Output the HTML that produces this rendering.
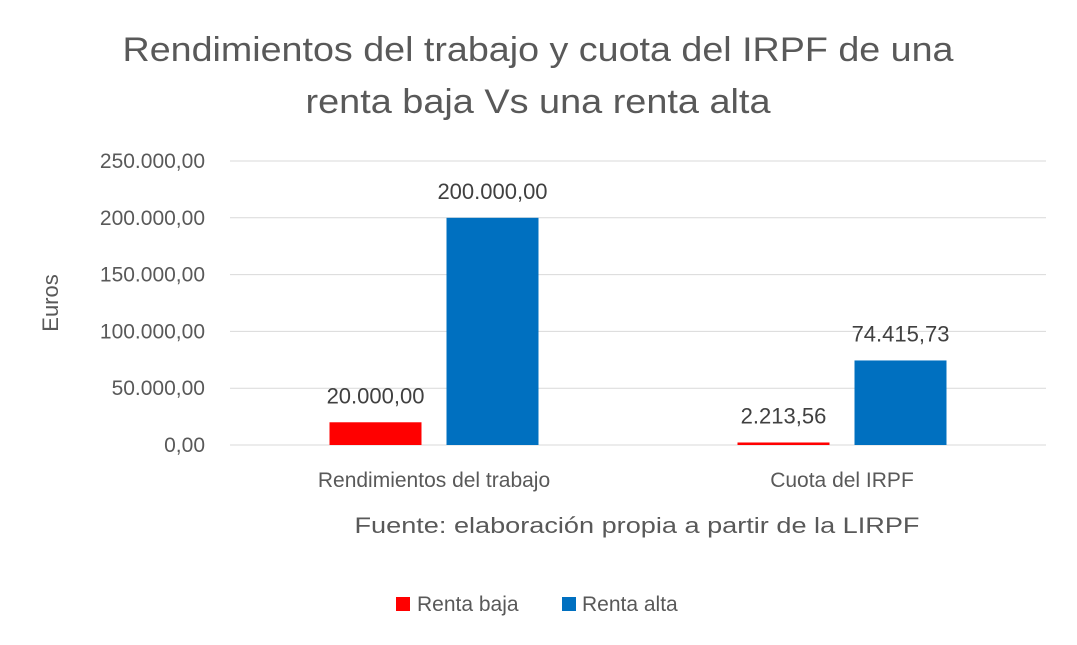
<!DOCTYPE html>
<html><head><meta charset="utf-8"><style>
body{margin:0;background:#fff}
svg{display:block;font-family:"Liberation Sans",sans-serif}
</style></head><body>
<svg width="1077" height="645" viewBox="0 0 1077 645">
<rect width="1077" height="645" fill="#fff"/>
<g fill="#595959" font-size="34" text-anchor="middle">
<text x="538" y="61" textLength="831" lengthAdjust="spacingAndGlyphs">Rendimientos del trabajo y cuota del IRPF de una</text>
<text x="538" y="113" textLength="465" lengthAdjust="spacingAndGlyphs">renta baja Vs una renta alta</text>
</g>
<g id="grid"></g><g id="yt"></g><g id="bars"></g><g id="labels"></g><g id="cats"></g>
<text x="0" y="0" transform="translate(58,303) rotate(-90)" text-anchor="middle" font-size="22" fill="#595959">Euros</text>
<text x="637" y="533" text-anchor="middle" font-size="22" fill="#595959" textLength="565" lengthAdjust="spacingAndGlyphs">Fuente: elaboración propia a partir de la LIRPF</text>
<g>
<rect x="396" y="597" width="14" height="14" fill="#ff0000"/>
<text x="417" y="611" font-size="21" fill="#595959">Renta baja</text>
<rect x="562" y="597" width="14" height="14" fill="#0070c0"/>
<text x="582" y="611" font-size="21" fill="#595959">Renta alta</text>
</g>
</svg>
<script>
const categories=["Rendimientos del trabajo","Cuota del IRPF"];
const rentaBaja=[20000,2213.56];
const rentaAlta=[200000,74415.73];
const baja_labels=["20.000,00","2.213,56"];
const alta_labels=["200.000,00","74.415,73"];
const yTicks=[0,50000,100000,150000,200000,250000];
const yTickLabels=["0,00","50.000,00","100.000,00","150.000,00","200.000,00","250.000,00"];
const NS="http://www.w3.org/2000/svg";
const x0=230,x1=1046,yBase=445,yTop=161,yMax=250000;
const y=v=>yBase-(v/yMax)*(yBase-yTop);
const gw=(x1-x0)/categories.length;
function mk(tag,attrs,parent){const e=document.createElementNS(NS,tag);for(const k in attrs)e.setAttribute(k,attrs[k]);document.getElementById(parent).appendChild(e);return e;}
yTicks.forEach((t,i)=>{
const l=mk("line",{x1:x0,x2:x1,y1:y(t),y2:y(t),stroke:"#d9d9d9","stroke-width":1},"grid");


const tx=mk("text",{x:205,y:y(t)+7,"text-anchor":"end","font-size":21,fill:"#595959"},"yt");
tx.textContent=yTickLabels[i];


});
const bw=92,gap=25;
categories.forEach((c,i)=>{
const cx=x0+gw*(i+0.5);
const series=[[rentaBaja[i],"#ff0000",baja_labels[i],cx-gap/2-bw],[rentaAlta[i],"#0070c0",alta_labels[i],cx+gap/2]];
series.forEach((s,j)=>{
const b=mk("rect",{x:s[3],y:y(s[0]),width:bw,height:yBase-y(s[0]),fill:s[1]},"bars");


const t=mk("text",{x:s[3]+bw/2,y:y(s[0])-19,"text-anchor":"middle","font-size":22,fill:"#404040"},"labels");
t.textContent=s[2];


});
const ct=mk("text",{x:cx,y:487,"text-anchor":"middle","font-size":21,fill:"#595959"},"cats");
ct.textContent=c;


});
</script>
</body></html>
